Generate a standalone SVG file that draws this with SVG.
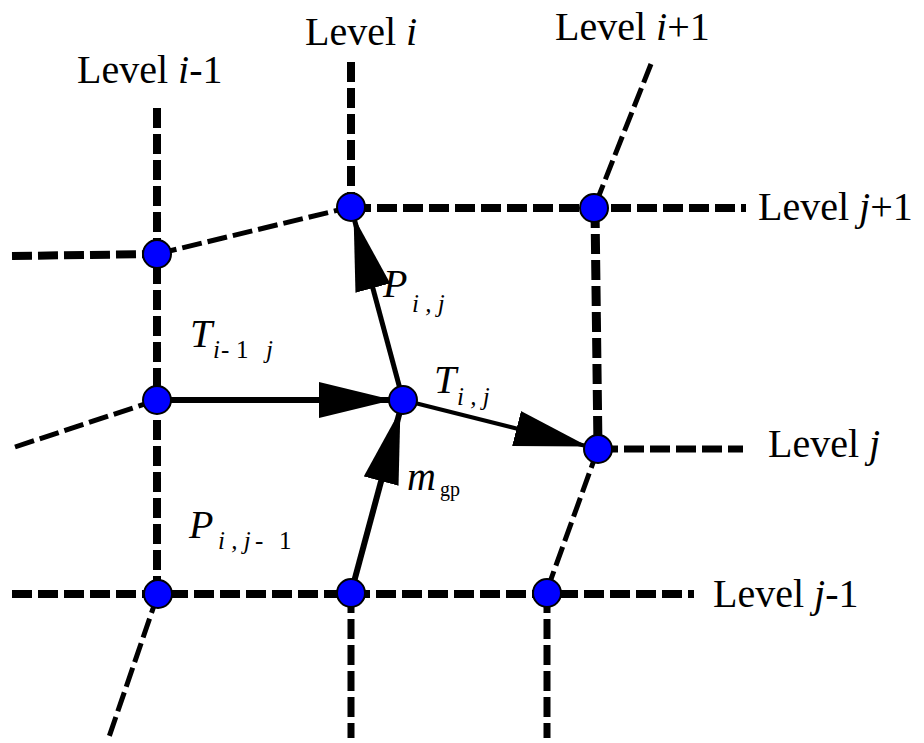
<svg xmlns="http://www.w3.org/2000/svg" width="924" height="743" viewBox="0 0 924 743">
<style>
.d{fill:none;stroke:#000;stroke-dasharray:20 6}
.s{fill:none;stroke:#000}
.n{fill:#0000ff;stroke:#000;stroke-width:2}
.t{font-family:"Liberation Serif","Times New Roman",serif;font-size:40px;fill:#000}
.m{font-family:"Liberation Serif","Times New Roman",serif;font-style:italic;fill:#000;font-size:40px}
.i{font-style:italic}
.sb{font-size:25px}
</style>
<defs>
<marker id="ah" markerUnits="userSpaceOnUse" markerWidth="90" markerHeight="36" refX="84" refY="18" orient="auto">
<path d="M0,0 L74,18 L0,36 z" fill="#000"/>
</marker>
</defs>
<rect width="924" height="743" fill="#fff"/>
<g id="connectors">
<line class="d" x1="157" y1="108" x2="157" y2="594" stroke-width="8"/>
<line class="d" x1="158" y1="594" x2="109" y2="737" stroke-width="5"/>
<line class="d" x1="351" y1="62" x2="351" y2="207" stroke-width="8"/>
<line class="d" x1="351" y1="593" x2="351" y2="738" stroke-width="7"/>
<line class="d" x1="651" y1="64" x2="594" y2="208" stroke-width="5"/>
<line class="d" x1="595" y1="208" x2="598" y2="449" stroke-width="9"/>
<line class="d" x1="598" y1="449" x2="546" y2="593" stroke-width="5"/>
<line class="d" x1="547" y1="593" x2="547" y2="738" stroke-width="7"/>
<line class="d" x1="12" y1="256" x2="157" y2="254" stroke-width="8"/>
<line class="d" x1="157" y1="254" x2="351" y2="207" stroke-width="5"/>
<line class="d" x1="351" y1="208" x2="746" y2="208" stroke-width="8"/>
<line class="d" x1="15" y1="447" x2="157" y2="400" stroke-width="5"/>
<line class="d" x1="598" y1="449" x2="743" y2="449" stroke-width="7"/>
<line class="d" x1="12" y1="594" x2="694" y2="594" stroke-width="8"/>
<line class="s" x1="157" y1="400" x2="403" y2="400" stroke-width="6" marker-end="url(#ah)"/>
<line class="s" x1="351" y1="593" x2="403" y2="400" stroke-width="6" marker-end="url(#ah)"/>
<line class="s" x1="403" y1="400" x2="351" y2="207" stroke-width="5" marker-end="url(#ah)"/>
<line class="s" x1="403" y1="400" x2="598" y2="449" stroke-width="4" marker-end="url(#ah)"/>
</g>
<g id="n-im1-jp1"><circle class="n" cx="157" cy="254" r="14"/></g>
<g id="n-i-jp1"><circle class="n" cx="351" cy="207" r="14"/></g>
<g id="n-ip1-jp1"><circle class="n" cx="594" cy="208" r="14"/></g>
<g id="n-im1-j"><circle class="n" cx="157" cy="400" r="14"/></g>
<g id="n-i-j"><circle class="n" cx="403" cy="400" r="14"/></g>
<g id="n-ip1-j"><circle class="n" cx="598" cy="449" r="14"/></g>
<g id="n-im1-jm1"><circle class="n" cx="158" cy="594" r="14"/></g>
<g id="n-i-jm1"><circle class="n" cx="351" cy="593" r="14"/></g>
<g id="n-ip1-jm1"><circle class="n" cx="547" cy="593" r="14"/></g>
<g id="labels">
<text class="t" x="77" y="83">Level <tspan class="i">i</tspan>-1</text>
<text class="t" x="305" y="45">Level <tspan class="i">i</tspan></text>
<text class="t" x="555" y="40">Level <tspan class="i">i</tspan>+1</text>
<text class="t" x="758" y="220">Level <tspan class="i">j</tspan>+1</text>
<text class="t" x="768" y="457">Level <tspan class="i">j</tspan></text>
<text class="t" x="713" y="607">Level <tspan class="i">j</tspan>-1</text>
<text class="m" x="383" y="297">P<tspan class="sb" x="412" y="312" xml:space="preserve">i , j</tspan></text>
<text class="m" x="190" y="347">T<tspan class="sb" x="213" y="358">i</tspan><tspan class="sb" x="221" y="358" font-style="normal">-</tspan><tspan class="sb" x="236" y="358" font-style="normal">1</tspan><tspan class="sb" x="266" y="358">j</tspan></text>
<text class="m" x="434" y="393">T<tspan class="sb" x="457" y="405" xml:space="preserve">i , j</tspan></text>
<text class="m" x="407" y="490" font-size="42">m<tspan x="440" y="496" font-size="20" font-style="normal">gp</tspan></text>
<text class="m" x="189" y="538">P<tspan class="sb" x="218" y="549" xml:space="preserve">i , j</tspan><tspan class="sb" x="255" y="549" font-style="normal">-</tspan><tspan class="sb" x="279" y="549" font-style="normal">1</tspan></text>
</g>
</svg>
